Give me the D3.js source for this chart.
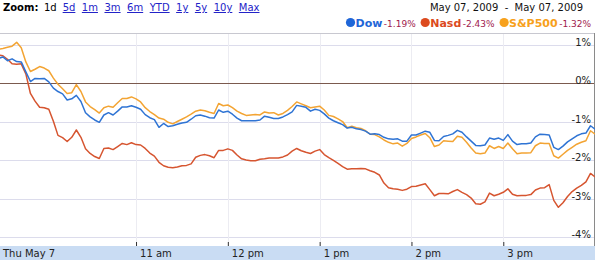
<!DOCTYPE html>
<html><head><meta charset="utf-8">
<script src="https://cdn.jsdelivr.net/npm/d3@7"></script>
<style>
html,body{margin:0;padding:0;background:#fff;overflow:hidden}
svg{display:block;font-family:"DejaVu Sans",Verdana,sans-serif}
</style>
</head><body><svg id="c" width="600" height="260"></svg>
<script>
// ---- data ----
const openTime = "09:30";
const closeTime = "16:00";
const stepMinutes = 3;
const dow = [0.65,0.69,0.59,0.64,0.57,0.56,0.30,0.05,0.13,0.12,0.13,0.04,-0.12,-0.21,-0.27,-0.43,-0.40,-0.31,-0.47,-0.76,
-0.87,-0.95,-1.01,-0.82,-0.76,-0.82,-0.72,-0.61,-0.61,-0.58,-0.62,-0.67,-0.81,-0.89,-0.94,-1.14,-1.04,-1.12,-1.10,-1.06,
-1.03,-1.01,-0.93,-0.84,-0.82,-0.85,-0.89,-0.90,-0.69,-0.75,-0.72,-0.80,-0.90,-0.97,-0.97,-0.97,-0.97,-0.95,-0.85,-0.88,
-0.91,-0.91,-0.87,-0.81,-0.74,-0.57,-0.59,-0.62,-0.72,-0.67,-0.70,-0.79,-0.90,-0.97,-1.02,-1.07,-1.16,-1.14,-1.18,-1.20,
-1.24,-1.32,-1.31,-1.33,-1.40,-1.44,-1.45,-1.44,-1.50,-1.50,-1.34,-1.34,-1.29,-1.24,-1.27,-1.48,-1.49,-1.38,-1.35,-1.31,
-1.22,-1.27,-1.39,-1.50,-1.61,-1.62,-1.60,-1.42,-1.45,-1.42,-1.48,-1.33,-1.50,-1.59,-1.57,-1.57,-1.55,-1.39,-1.32,-1.33,
-1.34,-1.66,-1.72,-1.63,-1.52,-1.44,-1.36,-1.31,-1.29,-1.10,-1.19];
const nasdaq = [0.74,0.72,0.63,0.51,0.50,0.51,0.25,-0.26,-0.46,-0.62,-0.63,-0.67,-0.98,-1.35,-1.41,-1.51,-1.40,-1.21,-1.40,-1.70,
-1.82,-1.90,-1.95,-1.69,-1.68,-1.72,-1.64,-1.56,-1.59,-1.54,-1.59,-1.60,-1.69,-1.81,-1.89,-2.05,-2.14,-2.18,-2.19,-2.17,
-2.14,-2.13,-2.09,-1.92,-1.87,-1.85,-1.88,-1.93,-1.74,-1.74,-1.70,-1.74,-1.86,-1.96,-1.99,-2.01,-2.01,-1.97,-1.96,-1.94,
-1.94,-1.94,-1.91,-1.86,-1.76,-1.69,-1.75,-1.79,-1.82,-1.76,-1.72,-1.85,-1.93,-2.00,-2.08,-2.16,-2.23,-2.22,-2.22,-2.21,
-2.22,-2.27,-2.31,-2.38,-2.59,-2.71,-2.74,-2.75,-2.78,-2.75,-2.68,-2.67,-2.64,-2.61,-2.76,-2.92,-2.86,-2.86,-2.87,-2.81,
-2.76,-2.83,-2.89,-2.98,-3.13,-3.14,-3.08,-2.85,-2.92,-2.88,-2.83,-2.74,-2.88,-2.92,-2.91,-2.91,-2.89,-2.77,-2.72,-2.71,
-2.63,-3.04,-3.22,-3.10,-2.94,-2.81,-2.72,-2.65,-2.56,-2.34,-2.43];
const sp500 = [0.89,0.91,0.94,0.97,1.07,0.93,0.56,0.31,0.37,0.44,0.40,0.33,0.14,-0.02,-0.14,-0.26,-0.24,-0.03,-0.21,-0.48,
-0.60,-0.68,-0.77,-0.63,-0.59,-0.62,-0.50,-0.39,-0.39,-0.35,-0.40,-0.48,-0.63,-0.73,-0.81,-0.90,-0.93,-1.01,-1.05,-0.99,
-0.93,-0.87,-0.80,-0.72,-0.69,-0.71,-0.75,-0.78,-0.52,-0.58,-0.56,-0.63,-0.72,-0.78,-0.83,-0.82,-0.81,-0.82,-0.74,-0.77,
-0.76,-0.82,-0.78,-0.70,-0.60,-0.48,-0.53,-0.58,-0.63,-0.61,-0.59,-0.69,-0.83,-0.86,-0.92,-0.99,-1.15,-1.11,-1.15,-1.17,
-1.23,-1.32,-1.33,-1.39,-1.47,-1.53,-1.57,-1.55,-1.63,-1.56,-1.43,-1.39,-1.34,-1.30,-1.41,-1.64,-1.60,-1.49,-1.50,-1.51,
-1.37,-1.40,-1.53,-1.68,-1.81,-1.83,-1.81,-1.62,-1.69,-1.64,-1.69,-1.55,-1.70,-1.83,-1.81,-1.81,-1.80,-1.62,-1.55,-1.56,
-1.56,-1.88,-1.94,-1.84,-1.74,-1.66,-1.58,-1.53,-1.49,-1.23,-1.32];
const seriesNames = ["Dow","Nasd","S&P500"];
const seriesChanges = ["-1.19%","-2.43%","-1.32%"];
const xTickTimes = ["09:30","11:00","12:00","13:00","14:00","15:00"];
const xTickLabels = ["Thu May 7","11 am","12 pm","1 pm","2 pm","3 pm"];
const yTicks = [1,0,-1,-2,-3,-4];
const zoomCurrent = "1d";
const zoomLinks = ["5d","1m","3m","6m","YTD","1y","5y","10y","Max"];
const dateRange = "May 07, 2009  -  May 07, 2009";

// ---- setup ----
const svg = d3.select("#c");
const parse = d3.timeParse("%H:%M");
const t0 = parse(openTime), t1 = parse(closeTime);
const plotTop = 33, plotBottom = 246, plotRight = 594;
const x = d3.scaleTime().domain([t0, t1]).range([-1.7, 595.1]);
const y = d3.scaleLinear().domain([1, -4]).range([45, 237.3]);
const colors = {Dow:"#2f74d4", Nasd:"#d65530", "S&P500":"#f3a433"};
const legendColors = {Dow:"#1f66d8", Nasd:"#dc4a1e", "S&P500":"#f7a11c"};

// horizontal gridlines
svg.append("g").attr("class","ygrid")
  .call(d3.axisLeft(y).tickValues(yTicks).tickSize(-plotRight).tickFormat(""))
  .call(g => g.select(".domain").remove())
  .call(g => g.selectAll("line").attr("stroke", d => d === 0 ? "#7b5a4e" : "#dcdcec").attr("stroke-width",1).attr("shape-rendering","crispEdges"));

// vertical gridlines
const xTicks = xTickTimes.map(parse);
svg.append("g").selectAll("line").data(xTicks.slice(1)).join("line")
  .attr("x1", d => Math.round(x(d))+0.5).attr("x2", d => Math.round(x(d))+0.5)
  .attr("y1", plotTop).attr("y2", plotBottom)
  .attr("stroke","#ececf2").attr("stroke-width",1);

// redraw 0% line over vertical grid
svg.append("line").attr("x1",0).attr("x2",plotRight).attr("y1",Math.round(y(0))+0.5).attr("y2",Math.round(y(0))+0.5)
  .attr("stroke","#7b5a4e").attr("stroke-width",1);

// borders
svg.append("line").attr("x1",0).attr("x2",plotRight).attr("y1",plotTop+0.5).attr("y2",plotTop+0.5).attr("stroke","#c8c8d0");
svg.append("line").attr("x1",plotRight+0.5).attr("x2",plotRight+0.5).attr("y1",plotTop).attr("y2",plotBottom).attr("stroke","#8a8a8a");

// y labels
svg.append("g").attr("transform",`translate(${plotRight-3},0)`)
  .call(d3.axisLeft(y).tickValues(yTicks).tickSize(0).tickFormat(d => d + "%"))
  .call(g => g.select(".domain").remove())
  .call(g => g.selectAll("text").attr("font-size",10).attr("font-family","DejaVu Sans").attr("fill","#222").attr("x",0).attr("dy","0.05em").attr("text-anchor","end"));

// lines
svg.append("defs").append("clipPath").attr("id","clip").append("rect")
  .attr("x",0).attr("y",plotTop).attr("width",plotRight+1).attr("height",plotBottom-plotTop);
const series = [
  {name:"Nasd", values:nasdaq},
  {name:"S&P500", values:sp500},
  {name:"Dow", values:dow}
];
const line = d3.line().x((d,i) => x(d3.timeMinute.offset(t0, i*stepMinutes))).y(d => y(d));
svg.append("g").attr("clip-path","url(#clip)").selectAll("path").data(series).join("path")
  .attr("d", d => line(d.values)).attr("fill","none")
  .attr("stroke", d => colors[d.name]).attr("stroke-width",1.5).attr("stroke-linejoin","round");

// x axis band
svg.append("rect").attr("x",0).attr("y",plotBottom).attr("width",plotRight+1).attr("height",260-plotBottom).attr("fill","#c9dcf3");
svg.append("g").attr("transform",`translate(0,${plotBottom})`)
  .call(d3.axisTop(x).tickValues(xTicks.slice(1)).tickSize(4).tickFormat(""))
  .call(g => g.select(".domain").remove())
  .call(g => g.selectAll("line").attr("stroke","#333"));
svg.append("g").selectAll("text").data(xTicks).join("text")
  .attr("x", (d,i) => i === 0 ? 3 : x(d) + 4)
  .attr("y", 257).attr("font-size",10).attr("fill","#222")
  .text((d,i) => xTickLabels[i]);

// header: zoom links
const hdr = svg.append("g");
let cx = 3;
const zt = hdr.append("text").attr("x",cx).attr("y",11).attr("font-size",10).attr("font-weight","bold").attr("fill","#000").text("Zoom:");
cx += zt.node().getComputedTextLength() + 5.5;
const ct = hdr.append("text").attr("x",cx).attr("y",11).attr("font-size",10).attr("fill","#000").text(zoomCurrent);
cx += ct.node().getComputedTextLength() + 6;
zoomLinks.forEach(l => {
  const t = hdr.append("text").attr("x",cx).attr("y",11).attr("font-size",10).attr("fill","#2323c8")
    .attr("text-decoration","underline").text(l);
  cx += t.node().getComputedTextLength() + 6.5;
});

// date range
svg.append("text").attr("x",583).attr("y",11).attr("text-anchor","end").attr("font-size",10).attr("fill","#111")
  .style("white-space","pre").text(dateRange);

// legend
const lg = svg.append("g");
let lx = 0;
seriesNames.forEach((n,i) => {
  lg.append("circle").attr("cx", lx+4.5).attr("cy",22.5).attr("r",4.6).attr("fill",legendColors[n]);
  const nt = lg.append("text").attr("x",lx+9.5).attr("y",27).attr("font-size",11).attr("font-weight","bold").attr("fill",legendColors[n]).text(n);
  lx += 9.5 + nt.node().getComputedTextLength() + 1.5;
  const pt = lg.append("text").attr("x",lx).attr("y",27).attr("font-size",9).attr("fill","#a0194c").text(seriesChanges[i]);
  lx += pt.node().getComputedTextLength() + 5;
});
lg.attr("transform",`translate(${591 - (lx-5)},0)`);
</script>
</body></html>
